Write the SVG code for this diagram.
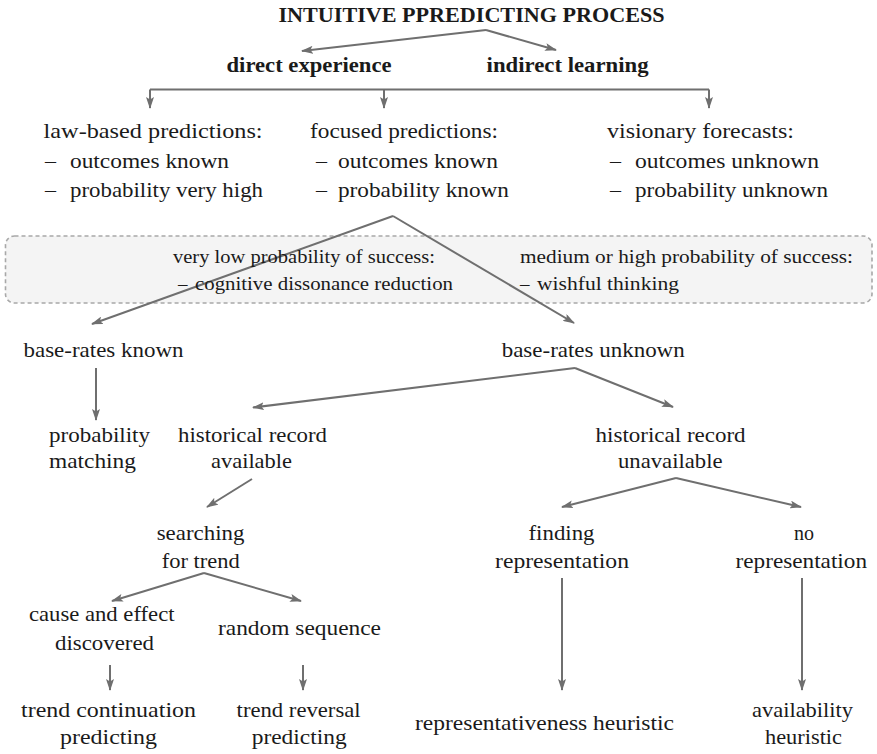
<svg xmlns="http://www.w3.org/2000/svg" width="877" height="754" viewBox="0 0 877 754">
<style>
text{font-family:"Liberation Serif","Times New Roman",serif;fill:#1a1a1a;font-size:22px}
.b{font-weight:bold}
.s{font-size:19px}
.c line,.c path{stroke:#6f6f6f;stroke-width:2;fill:none}
.c .a{marker-end:url(#ah)}
</style>
<defs>
<marker id="ah" viewBox="0 0 12 8" refX="11" refY="4" markerWidth="12" markerHeight="8" markerUnits="userSpaceOnUse" orient="auto">
<path d="M0,0 L12,4 L0,8 L2.5,4 z" fill="#6f6f6f"/>
</marker>
</defs>
<rect id="box" x="5.5" y="236" width="866.5" height="67" rx="9" fill="#f4f4f4" stroke="#a8a8a8" stroke-width="1.6" stroke-dasharray="4 3"/>
<g class="c" id="connectors">
<line class="a" x1="486" y1="30" x2="302" y2="51"/>
<line class="a" x1="486" y1="30" x2="556" y2="50"/>
<line x1="150" y1="89.5" x2="709" y2="89.5"/>
<line class="a" x1="150" y1="89.5" x2="150" y2="108"/>
<line class="a" x1="384" y1="89.5" x2="384" y2="108"/>
<line class="a" x1="709" y1="89.5" x2="709" y2="108"/>
<line class="a" x1="393" y1="216" x2="92" y2="324"/>
<line class="a" x1="393" y1="216" x2="574" y2="323"/>
<line class="a" x1="96" y1="368" x2="96" y2="420"/>
<line class="a" x1="575" y1="368" x2="253" y2="407.5"/>
<line class="a" x1="575" y1="368" x2="673" y2="407"/>
<line class="a" x1="252" y1="479" x2="207" y2="507"/>
<line class="a" x1="676" y1="478" x2="562" y2="507"/>
<line class="a" x1="676" y1="478" x2="801" y2="507"/>
<line class="a" x1="204" y1="573" x2="112" y2="601"/>
<line class="a" x1="204" y1="573" x2="301" y2="601"/>
<line class="a" x1="110" y1="665" x2="110" y2="690"/>
<line class="a" x1="303" y1="665" x2="303" y2="690"/>
<line class="a" x1="562" y1="578" x2="562" y2="690"/>
<line class="a" x1="802" y1="578" x2="802" y2="690"/>
</g>
<g id="title"><text class="b" x="278.5" y="22" textLength="386" lengthAdjust="spacingAndGlyphs">INTUITIVE PPREDICTING PROCESS</text></g>
<g id="direct"><text class="b" x="226.5" y="72" textLength="165" lengthAdjust="spacingAndGlyphs">direct experience</text></g>
<g id="indirect"><text class="b" x="486.6" y="72" textLength="162" lengthAdjust="spacingAndGlyphs">indirect learning</text></g>
<g id="law">
<text x="43.6" y="137.5" textLength="219" lengthAdjust="spacingAndGlyphs">law-based predictions:</text>
<text x="45" y="167.5">–</text><text x="70" y="167.5" textLength="159" lengthAdjust="spacingAndGlyphs">outcomes known</text>
<text x="45" y="197">–</text><text x="70" y="197" textLength="193" lengthAdjust="spacingAndGlyphs">probability very high</text>
</g>
<g id="focused">
<text x="310" y="137.5" textLength="188" lengthAdjust="spacingAndGlyphs">focused predictions:</text>
<text x="316" y="167.5">–</text><text x="338" y="167.5" textLength="160" lengthAdjust="spacingAndGlyphs">outcomes known</text>
<text x="316" y="197">–</text><text x="338" y="197" textLength="171" lengthAdjust="spacingAndGlyphs">probability known</text>
</g>
<g id="visionary">
<text x="607" y="137.5" textLength="187" lengthAdjust="spacingAndGlyphs">visionary forecasts:</text>
<text x="610" y="167.5">–</text><text x="635" y="167.5" textLength="184" lengthAdjust="spacingAndGlyphs">outcomes unknown</text>
<text x="610" y="197">–</text><text x="635" y="197" textLength="193" lengthAdjust="spacingAndGlyphs">probability unknown</text>
</g>
<g id="lowprob">
<text class="s" x="173" y="263" textLength="262" lengthAdjust="spacingAndGlyphs">very low probability of success:</text>
<text class="s" x="178" y="290">–</text><text class="s" x="195" y="290" textLength="258" lengthAdjust="spacingAndGlyphs">cognitive dissonance reduction</text>
</g>
<g id="highprob">
<text class="s" x="520" y="263" textLength="333" lengthAdjust="spacingAndGlyphs">medium or high probability of success:</text>
<text class="s" x="520" y="290">–</text><text class="s" x="537" y="290" textLength="142" lengthAdjust="spacingAndGlyphs">wishful thinking</text>
</g>
<g id="brknown"><text x="23.5" y="357" textLength="160" lengthAdjust="spacingAndGlyphs">base-rates known</text></g>
<g id="brunknown"><text x="501.7" y="357" textLength="183" lengthAdjust="spacingAndGlyphs">base-rates unknown</text></g>
<g id="probmatch">
<text x="49" y="442" textLength="101" lengthAdjust="spacingAndGlyphs">probability</text>
<text x="49" y="468" textLength="87" lengthAdjust="spacingAndGlyphs">matching</text>
</g>
<g id="histavail">
<text x="178" y="442" textLength="149" lengthAdjust="spacingAndGlyphs">historical record</text>
<text x="211" y="468" textLength="81" lengthAdjust="spacingAndGlyphs">available</text>
</g>
<g id="histunavail">
<text x="595.6" y="442" textLength="150" lengthAdjust="spacingAndGlyphs">historical record</text>
<text x="618" y="468" textLength="104.6" lengthAdjust="spacingAndGlyphs">unavailable</text>
</g>
<g id="searching">
<text x="156.7" y="540" textLength="87.7" lengthAdjust="spacingAndGlyphs">searching</text>
<text x="161.7" y="568" textLength="78" lengthAdjust="spacingAndGlyphs">for trend</text>
</g>
<g id="finding">
<text x="528.5" y="540" textLength="66" lengthAdjust="spacingAndGlyphs">finding</text>
<text x="495" y="568" textLength="134" lengthAdjust="spacingAndGlyphs">representation</text>
</g>
<g id="norep">
<text x="794" y="540" textLength="20" lengthAdjust="spacingAndGlyphs">no</text>
<text x="735.5" y="568" textLength="131.5" lengthAdjust="spacingAndGlyphs">representation</text>
</g>
<g id="cause">
<text x="29" y="621" textLength="145.5" lengthAdjust="spacingAndGlyphs">cause and effect</text>
<text x="55" y="650" textLength="99" lengthAdjust="spacingAndGlyphs">discovered</text>
</g>
<g id="random"><text x="218" y="635" textLength="163" lengthAdjust="spacingAndGlyphs">random sequence</text></g>
<g id="continuation">
<text x="21" y="717" textLength="175" lengthAdjust="spacingAndGlyphs">trend continuation</text>
<text x="60" y="744" textLength="97" lengthAdjust="spacingAndGlyphs">predicting</text>
</g>
<g id="reversal">
<text x="236.6" y="717" textLength="124" lengthAdjust="spacingAndGlyphs">trend reversal</text>
<text x="251.7" y="744" textLength="95" lengthAdjust="spacingAndGlyphs">predicting</text>
</g>
<g id="representativeness"><text x="415" y="730" textLength="259" lengthAdjust="spacingAndGlyphs">representativeness heuristic</text></g>
<g id="availability">
<text x="752" y="717" textLength="101" lengthAdjust="spacingAndGlyphs">availability</text>
<text x="765" y="744" textLength="77" lengthAdjust="spacingAndGlyphs">heuristic</text>
</g>
</svg>
